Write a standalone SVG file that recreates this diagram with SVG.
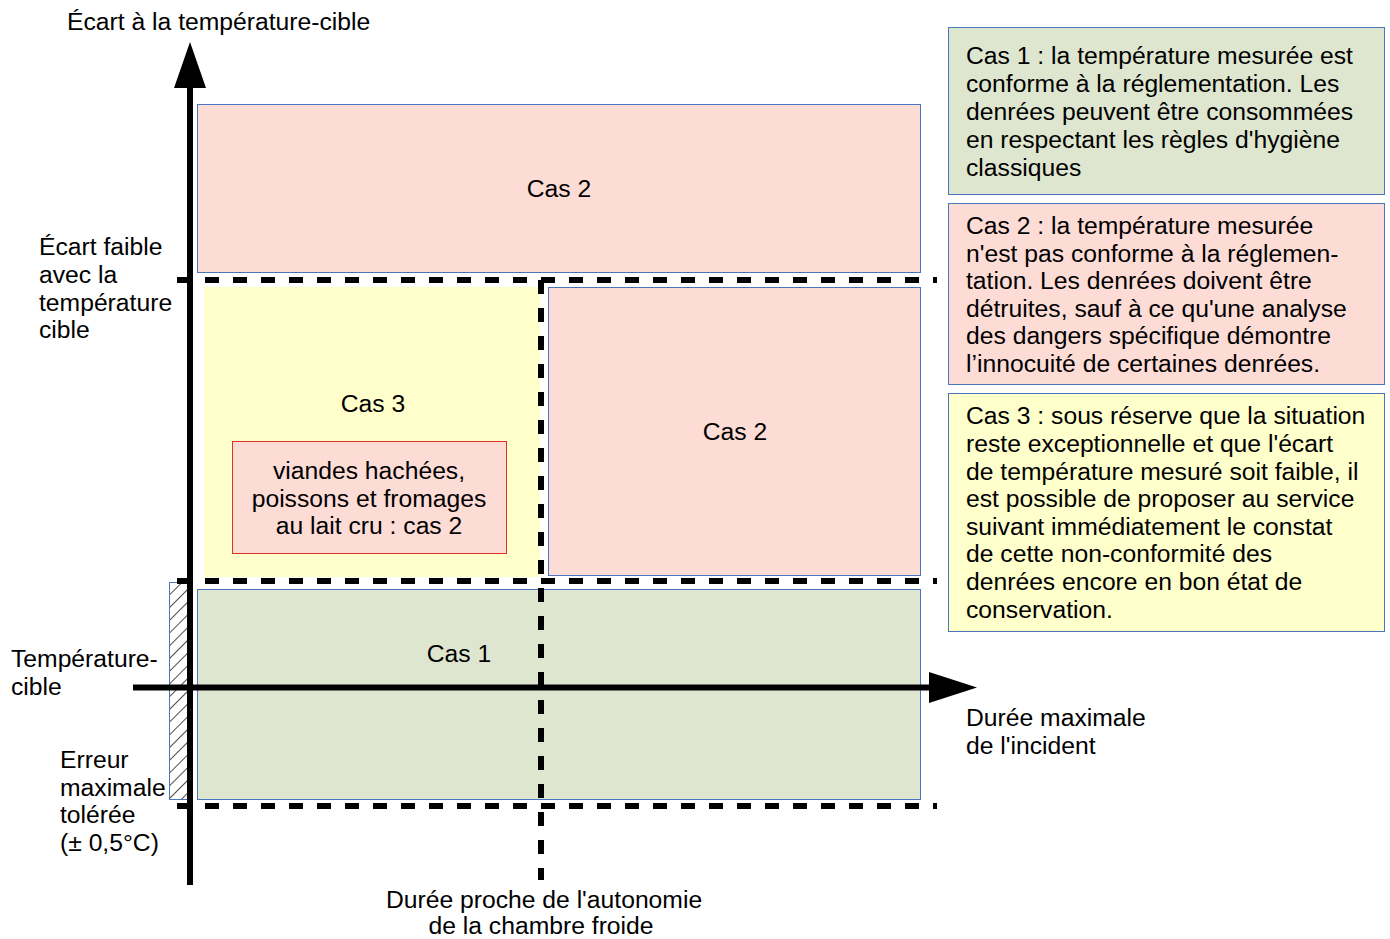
<svg xmlns="http://www.w3.org/2000/svg" width="1390" height="939" viewBox="0 0 1390 939">
<style>
text{font-family:"Liberation Sans",Arial,sans-serif;font-size:24.7px;fill:#000}
.c{text-anchor:middle}
.pink{fill:#fddcd6;stroke:#4a76c0;stroke-width:1}
.green{fill:#dee6cf;stroke:#4a76c0;stroke-width:1}
.yel{fill:#ffffcc;stroke:#4a76c0;stroke-width:1}
.dash{stroke:#000;stroke-width:6;stroke-dasharray:14 14;fill:none}
.axis{stroke:#000;stroke-width:6;fill:none}
</style>
<defs>
<pattern id="hatch" patternUnits="userSpaceOnUse" width="9" height="9" patternTransform="rotate(45)">
<line x1="0" y1="0" x2="0" y2="9" stroke="#000" stroke-width="1.4"/>
</pattern>
</defs>
<rect width="1390" height="939" fill="#fff"/>
<g id="zone-cas2-top"><rect class="pink" x="197.5" y="104.5" width="723" height="168"/><text class="c" x="559" y="197">Cas 2</text></g>
<g id="zone-cas3"><rect x="204" y="287" width="336" height="290" fill="#ffffcc"/><text class="c" x="373" y="412">Cas 3</text></g>
<g id="zone-cas2-right"><rect class="pink" x="548.5" y="287.5" width="372" height="288"/><text class="c" x="735" y="440">Cas 2</text></g>
<g id="zone-cas1"><rect class="green" x="197.5" y="589.5" width="723" height="210"/><text class="c" x="459" y="662">Cas 1</text></g>
<g id="exception"><rect x="232.5" y="441.5" width="274" height="112" fill="#fddcd6" stroke="#e0302a" stroke-width="1"/>
<text class="c" x="369" y="479">viandes hachées,</text><text class="c" x="369" y="507">poissons et fromages</text><text class="c" x="369" y="534">au lait cru : cas 2</text></g>
<g id="tolerance"><rect x="169.5" y="582.5" width="20" height="217" fill="url(#hatch)" stroke="#4a76c0" stroke-width="1"/></g>
<g id="connectors">
<line class="dash" x1="177" y1="280" x2="937" y2="280"/>
<line class="dash" x1="177" y1="581" x2="937" y2="581"/>
<line class="dash" x1="177" y1="806" x2="937" y2="806"/>
<line class="dash" x1="541" y1="280" x2="541" y2="880"/>
<line class="axis" x1="190" y1="86" x2="190" y2="885"/>
<polygon points="174,88 190,42 206,88" fill="#000"/>
<line class="axis" x1="133" y1="687.5" x2="931" y2="687.5"/>
<polygon points="929,672 977,687.5 929,703" fill="#000"/>
</g>
<g id="labels">
<text x="67" y="30">Écart à la température-cible</text>
<text x="39" y="255">Écart faible</text><text x="39" y="283">avec la</text><text x="39" y="311">température</text><text x="39" y="338">cible</text>
<text x="11" y="667">Température-</text><text x="11" y="695">cible</text>
<text x="60" y="768">Erreur</text><text x="60" y="796">maximale</text><text x="60" y="823">tolérée</text><text x="60" y="851">(± 0,5°C)</text>
<text x="966" y="726">Durée maximale</text><text x="966" y="754">de l'incident</text>
<text class="c" x="544" y="908">Durée proche de l'autonomie</text><text class="c" x="541" y="934">de la chambre froide</text>
</g>
<g id="legend-cas1"><rect class="green" x="948.5" y="27.5" width="436" height="167"/>
<text x="966" y="64">Cas 1 : la température mesurée est</text><text x="966" y="92">conforme à la réglementation. Les</text><text x="966" y="120">denrées peuvent être consommées</text><text x="966" y="148">en respectant les règles d'hygiène</text><text x="966" y="176">classiques</text></g>
<g id="legend-cas2"><rect class="pink" x="948.5" y="203.5" width="436" height="181"/>
<text x="966" y="234">Cas 2 : la température mesurée</text><text x="966" y="262">n'est pas conforme à la réglemen-</text><text x="966" y="289">tation. Les denrées doivent être</text><text x="966" y="317">détruites, sauf à ce qu'une analyse</text><text x="966" y="344">des dangers spécifique démontre</text><text x="966" y="372">l’innocuité de certaines denrées.</text></g>
<g id="legend-cas3"><rect class="yel" x="948.5" y="393.5" width="436" height="238"/>
<text x="966" y="424">Cas 3 : sous réserve que la situation</text><text x="966" y="452">reste exceptionnelle et que l'écart</text><text x="966" y="480">de température mesuré soit faible, il</text><text x="966" y="507">est possible de proposer au service</text><text x="966" y="535">suivant immédiatement le constat</text><text x="966" y="562">de cette non-conformité des</text><text x="966" y="590">denrées encore en bon état de</text><text x="966" y="618">conservation.</text></g>
</svg>
